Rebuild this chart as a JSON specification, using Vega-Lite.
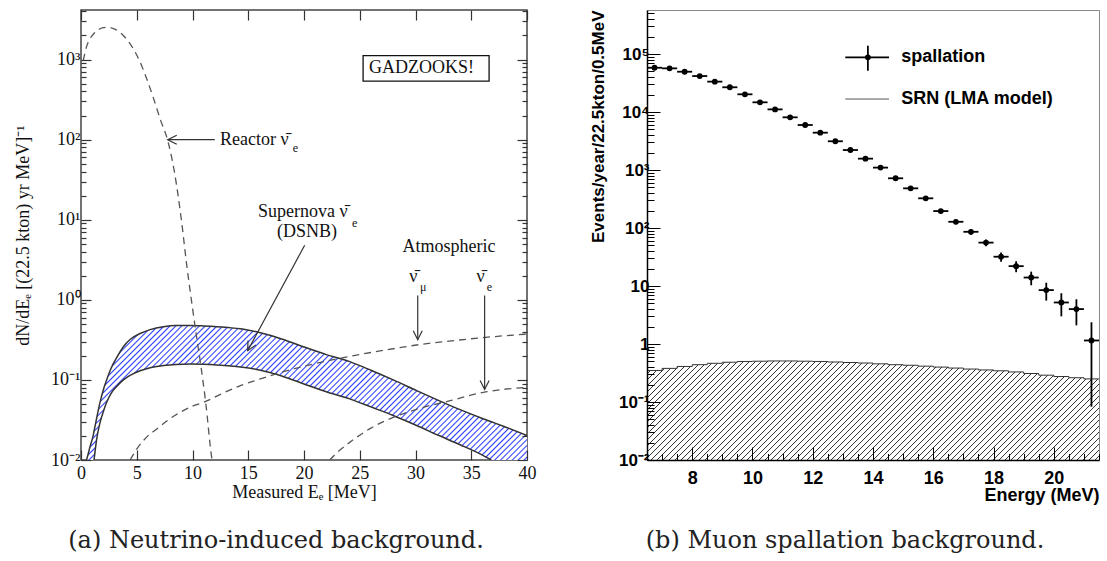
{
"$schema":"https://vega.github.io/schema/vega-lite/v6.json",
"background":"white",
"padding":{"left":13,"top":8,"right":0,"bottom":0},
"spacing":120,
"bounds":"flush",
"datasets":{
"dsnb":[{"E":0.5,"hi":0.0100,"lo":0.01},{"E":0.8,"hi":0.0145,"lo":0.01},{"E":1.1,"hi":0.0205,"lo":0.01},{"E":1.17,"hi":0.023,"lo":0.01},{"E":1.4,"hi":0.033,"lo":0.018},{"E":1.7,"hi":0.052,"lo":0.029},{"E":2.0,"hi":0.075,"lo":0.040},{"E":2.3,"hi":0.10,"lo":0.0525},{"E":2.7,"hi":0.14,"lo":0.068},{"E":3.2,"hi":0.19,"lo":0.083},{"E":3.8,"hi":0.26,"lo":0.100},{"E":4.4,"hi":0.32,"lo":0.114},{"E":5.3,"hi":0.38,"lo":0.130},{"E":6.2,"hi":0.425,"lo":0.142},{"E":7.4,"hi":0.462,"lo":0.151},{"E":8.5,"hi":0.477,"lo":0.156},{"E":9.8,"hi":0.478,"lo":0.158},{"E":11,"hi":0.472,"lo":0.157},{"E":12.2,"hi":0.462,"lo":0.154},{"E":13.2,"hi":0.45,"lo":0.150},{"E":14.3,"hi":0.435,"lo":0.145},{"E":16,"hi":0.39,"lo":0.133},{"E":18,"hi":0.325,"lo":0.112},{"E":20,"hi":0.258,"lo":0.089},{"E":22,"hi":0.207,"lo":0.071},{"E":24.1,"hi":0.169,"lo":0.058},{"E":26,"hi":0.132,"lo":0.046},{"E":28,"hi":0.100,"lo":0.036},{"E":30.1,"hi":0.0736,"lo":0.027},{"E":32,"hi":0.056,"lo":0.0205},{"E":34,"hi":0.0425,"lo":0.0155},{"E":36,"hi":0.033,"lo":0.0115},{"E":36.8,"hi":0.030,"lo":0.0100},{"E":38,"hi":0.026,"lo":0.01},{"E":40,"hi":0.0202,"lo":0.01}],
"curves":[
{"s":"reactor","E":0.2,"v":970},{"s":"reactor","E":0.5,"v":1450},{"s":"reactor","E":0.8,"v":1810},{"s":"reactor","E":1.2,"v":2150},{"s":"reactor","E":1.6,"v":2380},{"s":"reactor","E":2.0,"v":2500},{"s":"reactor","E":2.4,"v":2530},{"s":"reactor","E":2.9,"v":2440},{"s":"reactor","E":3.5,"v":2190},{"s":"reactor","E":4.1,"v":1790},{"s":"reactor","E":4.7,"v":1355},{"s":"reactor","E":5.3,"v":930},{"s":"reactor","E":5.9,"v":572},{"s":"reactor","E":6.5,"v":330},{"s":"reactor","E":7.1,"v":181},{"s":"reactor","E":7.8,"v":95},{"s":"reactor","E":8.4,"v":38},{"s":"reactor","E":9.0,"v":10},{"s":"reactor","E":9.5,"v":2.6},{"s":"reactor","E":9.93,"v":0.93},{"s":"reactor","E":10.3,"v":0.40},{"s":"reactor","E":10.67,"v":0.18},{"s":"reactor","E":11.2,"v":0.05},{"s":"reactor","E":11.72,"v":0.0108},{"s":"reactor","E":11.85,"v":0.0085},
{"s":"atm_mu","E":4.4,"v":0.0100},{"s":"atm_mu","E":5.0,"v":0.0137},{"s":"atm_mu","E":6.0,"v":0.020},{"s":"atm_mu","E":6.8,"v":0.0244},{"s":"atm_mu","E":8.0,"v":0.033},{"s":"atm_mu","E":8.9,"v":0.0394},{"s":"atm_mu","E":10,"v":0.047},{"s":"atm_mu","E":11,"v":0.0525},{"s":"atm_mu","E":12.5,"v":0.066},{"s":"atm_mu","E":14.3,"v":0.085},{"s":"atm_mu","E":16,"v":0.102},{"s":"atm_mu","E":18,"v":0.125},{"s":"atm_mu","E":20,"v":0.148},{"s":"atm_mu","E":22,"v":0.172},{"s":"atm_mu","E":24.1,"v":0.197},{"s":"atm_mu","E":26,"v":0.220},{"s":"atm_mu","E":28,"v":0.245},{"s":"atm_mu","E":30.1,"v":0.273},{"s":"atm_mu","E":33,"v":0.305},{"s":"atm_mu","E":36,"v":0.337},{"s":"atm_mu","E":40,"v":0.374},
{"s":"atm_e","E":22.3,"v":0.0100},{"s":"atm_e","E":23,"v":0.0125},{"s":"atm_e","E":24.1,"v":0.0166},{"s":"atm_e","E":26,"v":0.025},{"s":"atm_e","E":28,"v":0.034},{"s":"atm_e","E":30.1,"v":0.043},{"s":"atm_e","E":33.1,"v":0.055},{"s":"atm_e","E":36.1,"v":0.070},{"s":"atm_e","E":40,"v":0.081}],
"arrows":[{"name":"reactor","xa":12.0,"ya":100,"xb":7.78,"yb":100},{"name":"dsnb","xa":20.06,"ya":4.8,"xb":14.95,"yb":0.232},{"name":"atm","xa":30.2,"ya":1.13,"xb":30.2,"yb":0.318},{"name":"atm","xa":36.2,"ya":1.13,"xb":36.2,"yb":0.076}],
"box":[{"xa":25.3,"xb":36.6,"ya":537,"yb":1122}],
"ann":[{"t":"Reactor ν̄","E":12.47,"v":100},{"t":"Supernova ν̄","E":15.87,"v":12.65},{"t":"(DSNB)","E":17.58,"v":6.97},{"t":"Atmospheric","E":28.83,"v":4.53},{"t":"ν̄","E":29.45,"v":1.91},{"t":"ν̄","E":35.46,"v":1.91},{"t":"GADZOOKS!","E":25.83,"v":778}],
"sub":[{"t":"e","E":19.0,"v":79},{"t":"e","E":24.3,"v":9.0},{"t":"μ","E":30.4,"v":1.44},{"t":"e","E":36.4,"v":1.44}],
"srn":[{"E":6.5,"v":0.35},{"E":7.0,"v":0.38},{"E":7.5,"v":0.41},{"E":8.0,"v":0.44},{"E":8.5,"v":0.465},{"E":9.0,"v":0.485},{"E":9.5,"v":0.50},{"E":10.0,"v":0.505},{"E":10.5,"v":0.51},{"E":11.0,"v":0.51},{"E":11.5,"v":0.505},{"E":12.0,"v":0.50},{"E":12.5,"v":0.49},{"E":13.0,"v":0.48},{"E":13.5,"v":0.47},{"E":14.0,"v":0.455},{"E":14.5,"v":0.44},{"E":15.0,"v":0.43},{"E":15.5,"v":0.415},{"E":16.0,"v":0.40},{"E":16.5,"v":0.385},{"E":17.0,"v":0.37},{"E":17.5,"v":0.357},{"E":18.0,"v":0.345},{"E":18.5,"v":0.33},{"E":19.0,"v":0.31},{"E":19.5,"v":0.29},{"E":20.0,"v":0.275},{"E":20.5,"v":0.262},{"E":21.0,"v":0.25},{"E":21.5,"v":0.25}],
"spall":[{"E":6.75,"v":58000,"lo":57760,"hi":58240,"E0":6.5,"E1":7.0},{"E":7.25,"v":56600,"lo":56360,"hi":56840,"E0":7.0,"E1":7.5},{"E":7.75,"v":49500,"lo":49280,"hi":49720,"E0":7.5,"E1":8.0},{"E":8.25,"v":41700,"lo":41500,"hi":41900,"E0":8.0,"E1":8.5},{"E":8.75,"v":33400,"lo":33220,"hi":33580,"E0":8.5,"E1":9.0},{"E":9.25,"v":26700,"lo":26540,"hi":26860,"E0":9.0,"E1":9.5},{"E":9.75,"v":20200,"lo":20060,"hi":20340,"E0":9.5,"E1":10.0},{"E":10.25,"v":14700,"lo":14580,"hi":14820,"E0":10.0,"E1":10.5},{"E":10.75,"v":11100,"lo":10995,"hi":11205,"E0":10.5,"E1":11.0},{"E":11.25,"v":8100,"lo":8010,"hi":8190,"E0":11.0,"E1":11.5},{"E":11.75,"v":5970,"lo":5893,"hi":6047,"E0":11.5,"E1":12.0},{"E":12.25,"v":4400,"lo":4334,"hi":4466,"E0":12.0,"E1":12.5},{"E":12.75,"v":3130,"lo":3074,"hi":3186,"E0":12.5,"E1":13.0},{"E":13.25,"v":2210,"lo":2163,"hi":2257,"E0":13.0,"E1":13.5},{"E":13.75,"v":1570,"lo":1530,"hi":1610,"E0":13.5,"E1":14.0},{"E":14.25,"v":1100,"lo":1067,"hi":1133,"E0":14.0,"E1":14.5},{"E":14.75,"v":720,"lo":693,"hi":747,"E0":14.5,"E1":15.0},{"E":15.25,"v":483,"lo":461,"hi":505,"E0":15.0,"E1":15.5},{"E":15.75,"v":325,"lo":307,"hi":343,"E0":15.5,"E1":16.0},{"E":16.25,"v":196,"lo":182,"hi":210,"E0":16.0,"E1":16.5},{"E":16.75,"v":128,"lo":116.7,"hi":139.3,"E0":16.5,"E1":17.0},{"E":17.25,"v":86,"lo":76.7,"hi":95.3,"E0":17.0,"E1":17.5},{"E":17.75,"v":56,"lo":48.5,"hi":63.5,"E0":17.5,"E1":18.0},{"E":18.25,"v":32,"lo":26.3,"hi":37.7,"E0":18.0,"E1":18.5},{"E":18.75,"v":22,"lo":17.3,"hi":26.7,"E0":18.5,"E1":19.0},{"E":19.25,"v":14,"lo":10.3,"hi":17.7,"E0":19.0,"E1":19.5},{"E":19.75,"v":8.5,"lo":5.6,"hi":11.4,"E0":19.5,"E1":20.0},{"E":20.25,"v":5.2,"lo":3.0,"hi":7.5,"E0":20.0,"E1":20.5},{"E":20.75,"v":4.0,"lo":2.1,"hi":5.9,"E0":20.5,"E1":21.0},{"E":21.25,"v":1.15,"lo":0.083,"hi":2.37,"E0":21.0,"E1":21.5}],
"leg":[{"k":"sh","xa":13.08,"xb":14.53,"ya":87700,"yb":87700},{"k":"sv","xa":13.83,"xb":13.83,"ya":51500,"yb":139000},{"k":"srn","xa":13.08,"xb":14.53,"ya":16750,"yb":16750}],
"legp":[{"E":13.83,"v":87700}],
"legt":[{"t":"spallation","E":14.94,"v":87700},{"t":"SRN (LMA model)","E":14.94,"v":16750}]
},
"hconcat":[
{
"width":446,"height":450,
"view":{"stroke":"#444","strokeWidth":1.5},
"title":{"text":"(a) Neutrino-induced background.","orient":"bottom","anchor":"middle","dx":-28,"font":"DejaVu Serif","fontSize":24,"fontWeight":"normal","color":"#222","offset":28},
"resolve":{"axis":{"x":"independent","y":"independent"}},
"layer":[
{"data":{"name":"dsnb"},
"mark":{"type":"area","interpolate":"monotone","clip":true,"fill":{"gradient":"linear","x1":0,"y1":0,"x2":1.2217,"y2":0.3731,"stops":[{"offset":0.00,"color":"#fff"},{"offset":0.0025,"color":"#2a3cff"},{"offset":0.005,"color":"#fff"},{"offset":0.01,"color":"#fff"},{"offset":0.0125,"color":"#2a3cff"},{"offset":0.015,"color":"#fff"},{"offset":0.02,"color":"#fff"},{"offset":0.0225,"color":"#2a3cff"},{"offset":0.025,"color":"#fff"},{"offset":0.03,"color":"#fff"},{"offset":0.0325,"color":"#2a3cff"},{"offset":0.035,"color":"#fff"},{"offset":0.04,"color":"#fff"},{"offset":0.0425,"color":"#2a3cff"},{"offset":0.045,"color":"#fff"},{"offset":0.05,"color":"#fff"},{"offset":0.0525,"color":"#2a3cff"},{"offset":0.055,"color":"#fff"},{"offset":0.06,"color":"#fff"},{"offset":0.0625,"color":"#2a3cff"},{"offset":0.065,"color":"#fff"},{"offset":0.07,"color":"#fff"},{"offset":0.0725,"color":"#2a3cff"},{"offset":0.075,"color":"#fff"},{"offset":0.08,"color":"#fff"},{"offset":0.0825,"color":"#2a3cff"},{"offset":0.085,"color":"#fff"},{"offset":0.09,"color":"#fff"},{"offset":0.0925,"color":"#2a3cff"},{"offset":0.095,"color":"#fff"},{"offset":0.10,"color":"#fff"},{"offset":0.1025,"color":"#2a3cff"},{"offset":0.105,"color":"#fff"},{"offset":0.11,"color":"#fff"},{"offset":0.1125,"color":"#2a3cff"},{"offset":0.115,"color":"#fff"},{"offset":0.12,"color":"#fff"},{"offset":0.1225,"color":"#2a3cff"},{"offset":0.125,"color":"#fff"},{"offset":0.13,"color":"#fff"},{"offset":0.1325,"color":"#2a3cff"},{"offset":0.135,"color":"#fff"},{"offset":0.14,"color":"#fff"},{"offset":0.1425,"color":"#2a3cff"},{"offset":0.145,"color":"#fff"},{"offset":0.15,"color":"#fff"},{"offset":0.1525,"color":"#2a3cff"},{"offset":0.155,"color":"#fff"},{"offset":0.16,"color":"#fff"},{"offset":0.1625,"color":"#2a3cff"},{"offset":0.165,"color":"#fff"},{"offset":0.17,"color":"#fff"},{"offset":0.1725,"color":"#2a3cff"},{"offset":0.175,"color":"#fff"},{"offset":0.18,"color":"#fff"},{"offset":0.1825,"color":"#2a3cff"},{"offset":0.185,"color":"#fff"},{"offset":0.19,"color":"#fff"},{"offset":0.1925,"color":"#2a3cff"},{"offset":0.195,"color":"#fff"},{"offset":0.20,"color":"#fff"},{"offset":0.2025,"color":"#2a3cff"},{"offset":0.205,"color":"#fff"},{"offset":0.21,"color":"#fff"},{"offset":0.2125,"color":"#2a3cff"},{"offset":0.215,"color":"#fff"},{"offset":0.22,"color":"#fff"},{"offset":0.2225,"color":"#2a3cff"},{"offset":0.225,"color":"#fff"},{"offset":0.23,"color":"#fff"},{"offset":0.2325,"color":"#2a3cff"},{"offset":0.235,"color":"#fff"},{"offset":0.24,"color":"#fff"},{"offset":0.2425,"color":"#2a3cff"},{"offset":0.245,"color":"#fff"},{"offset":0.25,"color":"#fff"},{"offset":0.2525,"color":"#2a3cff"},{"offset":0.255,"color":"#fff"},{"offset":0.26,"color":"#fff"},{"offset":0.2625,"color":"#2a3cff"},{"offset":0.265,"color":"#fff"},{"offset":0.27,"color":"#fff"},{"offset":0.2725,"color":"#2a3cff"},{"offset":0.275,"color":"#fff"},{"offset":0.28,"color":"#fff"},{"offset":0.2825,"color":"#2a3cff"},{"offset":0.285,"color":"#fff"},{"offset":0.29,"color":"#fff"},{"offset":0.2925,"color":"#2a3cff"},{"offset":0.295,"color":"#fff"},{"offset":0.30,"color":"#fff"},{"offset":0.3025,"color":"#2a3cff"},{"offset":0.305,"color":"#fff"},{"offset":0.31,"color":"#fff"},{"offset":0.3125,"color":"#2a3cff"},{"offset":0.315,"color":"#fff"},{"offset":0.32,"color":"#fff"},{"offset":0.3225,"color":"#2a3cff"},{"offset":0.325,"color":"#fff"},{"offset":0.33,"color":"#fff"},{"offset":0.3325,"color":"#2a3cff"},{"offset":0.335,"color":"#fff"},{"offset":0.34,"color":"#fff"},{"offset":0.3425,"color":"#2a3cff"},{"offset":0.345,"color":"#fff"},{"offset":0.35,"color":"#fff"},{"offset":0.3525,"color":"#2a3cff"},{"offset":0.355,"color":"#fff"},{"offset":0.36,"color":"#fff"},{"offset":0.3625,"color":"#2a3cff"},{"offset":0.365,"color":"#fff"},{"offset":0.37,"color":"#fff"},{"offset":0.3725,"color":"#2a3cff"},{"offset":0.375,"color":"#fff"},{"offset":0.38,"color":"#fff"},{"offset":0.3825,"color":"#2a3cff"},{"offset":0.385,"color":"#fff"},{"offset":0.39,"color":"#fff"},{"offset":0.3925,"color":"#2a3cff"},{"offset":0.395,"color":"#fff"},{"offset":0.40,"color":"#fff"},{"offset":0.4025,"color":"#2a3cff"},{"offset":0.405,"color":"#fff"},{"offset":0.41,"color":"#fff"},{"offset":0.4125,"color":"#2a3cff"},{"offset":0.415,"color":"#fff"},{"offset":0.42,"color":"#fff"},{"offset":0.4225,"color":"#2a3cff"},{"offset":0.425,"color":"#fff"},{"offset":0.43,"color":"#fff"},{"offset":0.4325,"color":"#2a3cff"},{"offset":0.435,"color":"#fff"},{"offset":0.44,"color":"#fff"},{"offset":0.4425,"color":"#2a3cff"},{"offset":0.445,"color":"#fff"},{"offset":0.45,"color":"#fff"},{"offset":0.4525,"color":"#2a3cff"},{"offset":0.455,"color":"#fff"},{"offset":0.46,"color":"#fff"},{"offset":0.4625,"color":"#2a3cff"},{"offset":0.465,"color":"#fff"},{"offset":0.47,"color":"#fff"},{"offset":0.4725,"color":"#2a3cff"},{"offset":0.475,"color":"#fff"},{"offset":0.48,"color":"#fff"},{"offset":0.4825,"color":"#2a3cff"},{"offset":0.485,"color":"#fff"},{"offset":0.49,"color":"#fff"},{"offset":0.4925,"color":"#2a3cff"},{"offset":0.495,"color":"#fff"},{"offset":0.50,"color":"#fff"},{"offset":0.5025,"color":"#2a3cff"},{"offset":0.505,"color":"#fff"},{"offset":0.51,"color":"#fff"},{"offset":0.5125,"color":"#2a3cff"},{"offset":0.515,"color":"#fff"},{"offset":0.52,"color":"#fff"},{"offset":0.5225,"color":"#2a3cff"},{"offset":0.525,"color":"#fff"},{"offset":0.53,"color":"#fff"},{"offset":0.5325,"color":"#2a3cff"},{"offset":0.535,"color":"#fff"},{"offset":0.54,"color":"#fff"},{"offset":0.5425,"color":"#2a3cff"},{"offset":0.545,"color":"#fff"},{"offset":0.55,"color":"#fff"},{"offset":0.5525,"color":"#2a3cff"},{"offset":0.555,"color":"#fff"},{"offset":0.56,"color":"#fff"},{"offset":0.5625,"color":"#2a3cff"},{"offset":0.565,"color":"#fff"},{"offset":0.57,"color":"#fff"},{"offset":0.5725,"color":"#2a3cff"},{"offset":0.575,"color":"#fff"},{"offset":0.58,"color":"#fff"},{"offset":0.5825,"color":"#2a3cff"},{"offset":0.585,"color":"#fff"},{"offset":0.59,"color":"#fff"},{"offset":0.5925,"color":"#2a3cff"},{"offset":0.595,"color":"#fff"},{"offset":0.60,"color":"#fff"},{"offset":0.6025,"color":"#2a3cff"},{"offset":0.605,"color":"#fff"},{"offset":0.61,"color":"#fff"},{"offset":0.6125,"color":"#2a3cff"},{"offset":0.615,"color":"#fff"},{"offset":0.62,"color":"#fff"},{"offset":0.6225,"color":"#2a3cff"},{"offset":0.625,"color":"#fff"},{"offset":0.63,"color":"#fff"},{"offset":0.6325,"color":"#2a3cff"},{"offset":0.635,"color":"#fff"},{"offset":0.64,"color":"#fff"},{"offset":0.6425,"color":"#2a3cff"},{"offset":0.645,"color":"#fff"},{"offset":0.65,"color":"#fff"},{"offset":0.6525,"color":"#2a3cff"},{"offset":0.655,"color":"#fff"},{"offset":0.66,"color":"#fff"},{"offset":0.6625,"color":"#2a3cff"},{"offset":0.665,"color":"#fff"},{"offset":0.67,"color":"#fff"},{"offset":0.6725,"color":"#2a3cff"},{"offset":0.675,"color":"#fff"},{"offset":0.68,"color":"#fff"},{"offset":0.6825,"color":"#2a3cff"},{"offset":0.685,"color":"#fff"},{"offset":0.69,"color":"#fff"},{"offset":0.6925,"color":"#2a3cff"},{"offset":0.695,"color":"#fff"},{"offset":0.70,"color":"#fff"},{"offset":0.7025,"color":"#2a3cff"},{"offset":0.705,"color":"#fff"},{"offset":0.71,"color":"#fff"},{"offset":0.7125,"color":"#2a3cff"},{"offset":0.715,"color":"#fff"},{"offset":0.72,"color":"#fff"},{"offset":0.7225,"color":"#2a3cff"},{"offset":0.725,"color":"#fff"},{"offset":0.73,"color":"#fff"},{"offset":0.7325,"color":"#2a3cff"},{"offset":0.735,"color":"#fff"},{"offset":0.74,"color":"#fff"},{"offset":0.7425,"color":"#2a3cff"},{"offset":0.745,"color":"#fff"},{"offset":0.75,"color":"#fff"},{"offset":0.7525,"color":"#2a3cff"},{"offset":0.755,"color":"#fff"},{"offset":0.76,"color":"#fff"},{"offset":0.7625,"color":"#2a3cff"},{"offset":0.765,"color":"#fff"},{"offset":0.77,"color":"#fff"},{"offset":0.7725,"color":"#2a3cff"},{"offset":0.775,"color":"#fff"},{"offset":0.78,"color":"#fff"},{"offset":0.7825,"color":"#2a3cff"},{"offset":0.785,"color":"#fff"},{"offset":0.79,"color":"#fff"},{"offset":0.7925,"color":"#2a3cff"},{"offset":0.795,"color":"#fff"},{"offset":0.80,"color":"#fff"},{"offset":0.8025,"color":"#2a3cff"},{"offset":0.805,"color":"#fff"},{"offset":0.81,"color":"#fff"},{"offset":0.8125,"color":"#2a3cff"},{"offset":0.815,"color":"#fff"},{"offset":0.82,"color":"#fff"},{"offset":0.8225,"color":"#2a3cff"},{"offset":0.825,"color":"#fff"},{"offset":0.83,"color":"#fff"},{"offset":0.8325,"color":"#2a3cff"},{"offset":0.835,"color":"#fff"},{"offset":0.84,"color":"#fff"},{"offset":0.8425,"color":"#2a3cff"},{"offset":0.845,"color":"#fff"},{"offset":0.85,"color":"#fff"},{"offset":0.8525,"color":"#2a3cff"},{"offset":0.855,"color":"#fff"},{"offset":0.86,"color":"#fff"},{"offset":0.8625,"color":"#2a3cff"},{"offset":0.865,"color":"#fff"},{"offset":0.87,"color":"#fff"},{"offset":0.8725,"color":"#2a3cff"},{"offset":0.875,"color":"#fff"},{"offset":0.88,"color":"#fff"},{"offset":0.8825,"color":"#2a3cff"},{"offset":0.885,"color":"#fff"},{"offset":0.89,"color":"#fff"},{"offset":0.8925,"color":"#2a3cff"},{"offset":0.895,"color":"#fff"},{"offset":0.90,"color":"#fff"},{"offset":0.9025,"color":"#2a3cff"},{"offset":0.905,"color":"#fff"},{"offset":0.91,"color":"#fff"},{"offset":0.9125,"color":"#2a3cff"},{"offset":0.915,"color":"#fff"},{"offset":0.92,"color":"#fff"},{"offset":0.9225,"color":"#2a3cff"},{"offset":0.925,"color":"#fff"},{"offset":0.93,"color":"#fff"},{"offset":0.9325,"color":"#2a3cff"},{"offset":0.935,"color":"#fff"},{"offset":0.94,"color":"#fff"},{"offset":0.9425,"color":"#2a3cff"},{"offset":0.945,"color":"#fff"},{"offset":0.95,"color":"#fff"},{"offset":0.9525,"color":"#2a3cff"},{"offset":0.955,"color":"#fff"},{"offset":0.96,"color":"#fff"},{"offset":0.9625,"color":"#2a3cff"},{"offset":0.965,"color":"#fff"},{"offset":0.97,"color":"#fff"},{"offset":0.9725,"color":"#2a3cff"},{"offset":0.975,"color":"#fff"}]}},
"encoding":{
"x":{"field":"E","type":"quantitative","scale":{"domain":[0,40],"nice":false,"zero":false},
"axis":{"orient":"bottom","values":[0,5,10,15,20,25,30,35,40],"title":"Measured Eₑ  [MeV]","tickSize":-10,"tickColor":"#333","tickWidth":1.2,"domain":false,"grid":false,"labelFont":"Liberation Serif","labelFontSize":18,"labelColor":"#111","labelPadding":14,"labelFlush":false,"labelOverlap":false,"titleFont":"Liberation Serif","titleFontSize":18,"titleFontWeight":"normal","titleColor":"#111","titlePadding":1,"zindex":1}},
"y":{"field":"hi","type":"quantitative","scale":{"type":"log","domain":[0.01,4160],"nice":false},
"axis":{"orient":"left","values":[0.01,0.02,0.03,0.04,0.05,0.06,0.07,0.08,0.09,0.1,0.2,0.3,0.4,0.5,0.6,0.7,0.8,0.9,1,2,3,4,5,6,7,8,9,10,20,30,40,50,60,70,80,90,100,200,300,400,500,600,700,800,900,1000,2000,3000,4000],
"tickSize":{"condition":{"test":"datum.value==0.01||datum.value==0.1||datum.value==1||datum.value==10||datum.value==100||datum.value==1000","value":-10},"value":-5},
"labelFontSize":{"condition":{"test":"datum.value==0.01||datum.value==0.1||datum.value==1||datum.value==10||datum.value==100||datum.value==1000","value":18},"value":0},
"labelExpr":"datum.value==0.01?'10⁻²':datum.value==0.1?'10⁻¹':datum.value==1?'10⁰':datum.value==10?'10¹':datum.value==100?'10²':datum.value==1000?'10³':''",
"tickColor":"#333","tickWidth":1.2,"domain":false,"grid":false,"labelFont":"Liberation Serif","labelColor":"#111","labelPadding":11,"labelOverlap":false,"labelFlush":false,
"title":"dN/dEₑ  [(22.5 kton) yr MeV]⁻¹","titleFont":"Liberation Serif","titleFontSize":18,"titleFontWeight":"normal","titleColor":"#111","titlePadding":18,"zindex":1}},
"y2":{"field":"lo"}}},
{"data":{"name":"dsnb"},
"mark":{"type":"line","interpolate":"monotone","color":"#333","strokeWidth":1.5,"clip":true},
"encoding":{
"x":{"field":"E","type":"quantitative","scale":{"domain":[0,40],"nice":false,"zero":false},
"axis":{"orient":"top","values":[0,5,10,15,20,25,30,35,40],"labels":false,"title":null,"tickSize":-10,"tickColor":"#333","tickWidth":1.2,"domain":false,"grid":false,"zindex":1}},
"y":{"field":"hi","type":"quantitative","scale":{"type":"log","domain":[0.01,4160],"nice":false},
"axis":{"orient":"right","values":[0.01,0.02,0.03,0.04,0.05,0.06,0.07,0.08,0.09,0.1,0.2,0.3,0.4,0.5,0.6,0.7,0.8,0.9,1,2,3,4,5,6,7,8,9,10,20,30,40,50,60,70,80,90,100,200,300,400,500,600,700,800,900,1000,2000,3000,4000],
"tickSize":{"condition":{"test":"datum.value==0.01||datum.value==0.1||datum.value==1||datum.value==10||datum.value==100||datum.value==1000","value":-10},"value":-5},
"labels":false,"title":null,"tickColor":"#333","tickWidth":1.2,"domain":false,"grid":false,"zindex":1}}}},
{"data":{"name":"dsnb"},
"transform":[{"filter":"datum.E >= 1.17 && datum.E <= 36.8"}],
"mark":{"type":"line","interpolate":"monotone","color":"#333","strokeWidth":1.5,"clip":true},
"encoding":{
"x":{"field":"E","type":"quantitative","scale":{"domain":[0,40],"nice":false,"zero":false},"axis":null},
"y":{"field":"lo","type":"quantitative","scale":{"type":"log","domain":[0.01,4160],"nice":false},"axis":null}}},
{"data":{"name":"curves"},
"mark":{"type":"line","interpolate":"monotone","color":"#555","strokeWidth":1.3,"strokeDash":[7,5],"clip":true},
"encoding":{
"detail":{"field":"s"},
"x":{"field":"E","type":"quantitative","scale":{"domain":[0,40],"nice":false,"zero":false},"axis":null},
"y":{"field":"v","type":"quantitative","scale":{"type":"log","domain":[0.01,4160],"nice":false},"axis":null}}},
{"data":{"name":"arrows"},
"mark":{"type":"rule","color":"#333","strokeWidth":1.2},
"encoding":{
"x":{"field":"xa","type":"quantitative","scale":{"domain":[0,40],"nice":false,"zero":false},"axis":null},
"x2":{"field":"xb"},
"y":{"field":"ya","type":"quantitative","scale":{"type":"log","domain":[0.01,4160],"nice":false},"axis":null},
"y2":{"field":"yb"}}},
{"data":{"name":"arrows"},
"transform":[{"filter":"datum.name=='reactor'"}],
"mark":{"type":"point","shape":"M -0.5 1 L 0 0 L 0.5 1","angle":270,"size":324,"filled":false,"stroke":"#333","strokeWidth":1.2,"opacity":1},
"encoding":{
"x":{"field":"xb","type":"quantitative","scale":{"domain":[0,40],"nice":false,"zero":false},"axis":null},
"y":{"field":"yb","type":"quantitative","scale":{"type":"log","domain":[0.01,4160],"nice":false},"axis":null}}},
{"data":{"name":"arrows"},
"transform":[{"filter":"datum.name=='atm'"}],
"mark":{"type":"point","shape":"M -0.5 1 L 0 0 L 0.5 1","angle":180,"size":324,"filled":false,"stroke":"#333","strokeWidth":1.2,"opacity":1},
"encoding":{
"x":{"field":"xb","type":"quantitative","scale":{"domain":[0,40],"nice":false,"zero":false},"axis":null},
"y":{"field":"yb","type":"quantitative","scale":{"type":"log","domain":[0.01,4160],"nice":false},"axis":null}}},
{"data":{"name":"arrows"},
"transform":[{"filter":"datum.name=='dsnb'"}],
"mark":{"type":"point","shape":"M -0.5 1 L 0 0 L 0.5 1","angle":208.4,"size":324,"filled":false,"stroke":"#333","strokeWidth":1.2,"opacity":1},
"encoding":{
"x":{"field":"xb","type":"quantitative","scale":{"domain":[0,40],"nice":false,"zero":false},"axis":null},
"y":{"field":"yb","type":"quantitative","scale":{"type":"log","domain":[0.01,4160],"nice":false},"axis":null}}},
{"data":{"name":"box"},
"mark":{"type":"rect","fill":"white","stroke":"#111","strokeWidth":1.3},
"encoding":{
"x":{"field":"xa","type":"quantitative","scale":{"domain":[0,40],"nice":false,"zero":false},"axis":null},
"x2":{"field":"xb"},
"y":{"field":"ya","type":"quantitative","scale":{"type":"log","domain":[0.01,4160],"nice":false},"axis":null},
"y2":{"field":"yb"}}},
{"data":{"name":"ann"},
"mark":{"type":"text","font":"Liberation Serif","fontSize":18,"align":"left","baseline":"middle","color":"#111"},
"encoding":{
"text":{"field":"t"},
"x":{"field":"E","type":"quantitative","scale":{"domain":[0,40],"nice":false,"zero":false},"axis":null},
"y":{"field":"v","type":"quantitative","scale":{"type":"log","domain":[0.01,4160],"nice":false},"axis":null}}},
{"data":{"name":"sub"},
"mark":{"type":"text","font":"Liberation Serif","fontSize":12,"align":"left","baseline":"middle","color":"#111"},
"encoding":{
"text":{"field":"t"},
"x":{"field":"E","type":"quantitative","scale":{"domain":[0,40],"nice":false,"zero":false},"axis":null},
"y":{"field":"v","type":"quantitative","scale":{"type":"log","domain":[0.01,4160],"nice":false},"axis":null}}}
]
},
{
"width":452,"height":450,
"view":{"stroke":"#888","strokeWidth":1},
"title":{"text":"(b) Muon spallation background.","orient":"bottom","anchor":"middle","dx":-28,"font":"DejaVu Serif","fontSize":24,"fontWeight":"normal","color":"#222","offset":25},
"resolve":{"axis":{"x":"independent","y":"independent"}},
"layer":[
{"data":{"name":"srn"},
"mark":{"type":"area","interpolate":"step-after","clip":true,"fill":{"gradient":"linear","x1":0,"y1":0,"x2":1.2667,"y2":0.2774,"stops":[{"offset":0.00,"color":"#fff"},{"offset":0.0017,"color":"#333"},{"offset":0.0034,"color":"#fff"},{"offset":0.01,"color":"#fff"},{"offset":0.0117,"color":"#333"},{"offset":0.0134,"color":"#fff"},{"offset":0.02,"color":"#fff"},{"offset":0.0217,"color":"#333"},{"offset":0.0234,"color":"#fff"},{"offset":0.03,"color":"#fff"},{"offset":0.0317,"color":"#333"},{"offset":0.0334,"color":"#fff"},{"offset":0.04,"color":"#fff"},{"offset":0.0417,"color":"#333"},{"offset":0.0434,"color":"#fff"},{"offset":0.05,"color":"#fff"},{"offset":0.0517,"color":"#333"},{"offset":0.0534,"color":"#fff"},{"offset":0.06,"color":"#fff"},{"offset":0.0617,"color":"#333"},{"offset":0.0634,"color":"#fff"},{"offset":0.07,"color":"#fff"},{"offset":0.0717,"color":"#333"},{"offset":0.0734,"color":"#fff"},{"offset":0.08,"color":"#fff"},{"offset":0.0817,"color":"#333"},{"offset":0.0834,"color":"#fff"},{"offset":0.09,"color":"#fff"},{"offset":0.0917,"color":"#333"},{"offset":0.0934,"color":"#fff"},{"offset":0.10,"color":"#fff"},{"offset":0.1017,"color":"#333"},{"offset":0.1034,"color":"#fff"},{"offset":0.11,"color":"#fff"},{"offset":0.1117,"color":"#333"},{"offset":0.1134,"color":"#fff"},{"offset":0.12,"color":"#fff"},{"offset":0.1217,"color":"#333"},{"offset":0.1234,"color":"#fff"},{"offset":0.13,"color":"#fff"},{"offset":0.1317,"color":"#333"},{"offset":0.1334,"color":"#fff"},{"offset":0.14,"color":"#fff"},{"offset":0.1417,"color":"#333"},{"offset":0.1434,"color":"#fff"},{"offset":0.15,"color":"#fff"},{"offset":0.1517,"color":"#333"},{"offset":0.1534,"color":"#fff"},{"offset":0.16,"color":"#fff"},{"offset":0.1617,"color":"#333"},{"offset":0.1634,"color":"#fff"},{"offset":0.17,"color":"#fff"},{"offset":0.1717,"color":"#333"},{"offset":0.1734,"color":"#fff"},{"offset":0.18,"color":"#fff"},{"offset":0.1817,"color":"#333"},{"offset":0.1834,"color":"#fff"},{"offset":0.19,"color":"#fff"},{"offset":0.1917,"color":"#333"},{"offset":0.1934,"color":"#fff"},{"offset":0.20,"color":"#fff"},{"offset":0.2017,"color":"#333"},{"offset":0.2034,"color":"#fff"},{"offset":0.21,"color":"#fff"},{"offset":0.2117,"color":"#333"},{"offset":0.2134,"color":"#fff"},{"offset":0.22,"color":"#fff"},{"offset":0.2217,"color":"#333"},{"offset":0.2234,"color":"#fff"},{"offset":0.23,"color":"#fff"},{"offset":0.2317,"color":"#333"},{"offset":0.2334,"color":"#fff"},{"offset":0.24,"color":"#fff"},{"offset":0.2417,"color":"#333"},{"offset":0.2434,"color":"#fff"},{"offset":0.25,"color":"#fff"},{"offset":0.2517,"color":"#333"},{"offset":0.2534,"color":"#fff"},{"offset":0.26,"color":"#fff"},{"offset":0.2617,"color":"#333"},{"offset":0.2634,"color":"#fff"},{"offset":0.27,"color":"#fff"},{"offset":0.2717,"color":"#333"},{"offset":0.2734,"color":"#fff"},{"offset":0.28,"color":"#fff"},{"offset":0.2817,"color":"#333"},{"offset":0.2834,"color":"#fff"},{"offset":0.29,"color":"#fff"},{"offset":0.2917,"color":"#333"},{"offset":0.2934,"color":"#fff"},{"offset":0.30,"color":"#fff"},{"offset":0.3017,"color":"#333"},{"offset":0.3034,"color":"#fff"},{"offset":0.31,"color":"#fff"},{"offset":0.3117,"color":"#333"},{"offset":0.3134,"color":"#fff"},{"offset":0.32,"color":"#fff"},{"offset":0.3217,"color":"#333"},{"offset":0.3234,"color":"#fff"},{"offset":0.33,"color":"#fff"},{"offset":0.3317,"color":"#333"},{"offset":0.3334,"color":"#fff"},{"offset":0.34,"color":"#fff"},{"offset":0.3417,"color":"#333"},{"offset":0.3434,"color":"#fff"},{"offset":0.35,"color":"#fff"},{"offset":0.3517,"color":"#333"},{"offset":0.3534,"color":"#fff"},{"offset":0.36,"color":"#fff"},{"offset":0.3617,"color":"#333"},{"offset":0.3634,"color":"#fff"},{"offset":0.37,"color":"#fff"},{"offset":0.3717,"color":"#333"},{"offset":0.3734,"color":"#fff"},{"offset":0.38,"color":"#fff"},{"offset":0.3817,"color":"#333"},{"offset":0.3834,"color":"#fff"},{"offset":0.39,"color":"#fff"},{"offset":0.3917,"color":"#333"},{"offset":0.3934,"color":"#fff"},{"offset":0.40,"color":"#fff"},{"offset":0.4017,"color":"#333"},{"offset":0.4034,"color":"#fff"},{"offset":0.41,"color":"#fff"},{"offset":0.4117,"color":"#333"},{"offset":0.4134,"color":"#fff"},{"offset":0.42,"color":"#fff"},{"offset":0.4217,"color":"#333"},{"offset":0.4234,"color":"#fff"},{"offset":0.43,"color":"#fff"},{"offset":0.4317,"color":"#333"},{"offset":0.4334,"color":"#fff"},{"offset":0.44,"color":"#fff"},{"offset":0.4417,"color":"#333"},{"offset":0.4434,"color":"#fff"},{"offset":0.45,"color":"#fff"},{"offset":0.4517,"color":"#333"},{"offset":0.4534,"color":"#fff"},{"offset":0.46,"color":"#fff"},{"offset":0.4617,"color":"#333"},{"offset":0.4634,"color":"#fff"},{"offset":0.47,"color":"#fff"},{"offset":0.4717,"color":"#333"},{"offset":0.4734,"color":"#fff"},{"offset":0.48,"color":"#fff"},{"offset":0.4817,"color":"#333"},{"offset":0.4834,"color":"#fff"},{"offset":0.49,"color":"#fff"},{"offset":0.4917,"color":"#333"},{"offset":0.4934,"color":"#fff"},{"offset":0.50,"color":"#fff"},{"offset":0.5017,"color":"#333"},{"offset":0.5034,"color":"#fff"},{"offset":0.51,"color":"#fff"},{"offset":0.5117,"color":"#333"},{"offset":0.5134,"color":"#fff"},{"offset":0.52,"color":"#fff"},{"offset":0.5217,"color":"#333"},{"offset":0.5234,"color":"#fff"},{"offset":0.53,"color":"#fff"},{"offset":0.5317,"color":"#333"},{"offset":0.5334,"color":"#fff"},{"offset":0.54,"color":"#fff"},{"offset":0.5417,"color":"#333"},{"offset":0.5434,"color":"#fff"},{"offset":0.55,"color":"#fff"},{"offset":0.5517,"color":"#333"},{"offset":0.5534,"color":"#fff"},{"offset":0.56,"color":"#fff"},{"offset":0.5617,"color":"#333"},{"offset":0.5634,"color":"#fff"},{"offset":0.57,"color":"#fff"},{"offset":0.5717,"color":"#333"},{"offset":0.5734,"color":"#fff"},{"offset":0.58,"color":"#fff"},{"offset":0.5817,"color":"#333"},{"offset":0.5834,"color":"#fff"},{"offset":0.59,"color":"#fff"},{"offset":0.5917,"color":"#333"},{"offset":0.5934,"color":"#fff"},{"offset":0.60,"color":"#fff"},{"offset":0.6017,"color":"#333"},{"offset":0.6034,"color":"#fff"},{"offset":0.61,"color":"#fff"},{"offset":0.6117,"color":"#333"},{"offset":0.6134,"color":"#fff"},{"offset":0.62,"color":"#fff"},{"offset":0.6217,"color":"#333"},{"offset":0.6234,"color":"#fff"},{"offset":0.63,"color":"#fff"},{"offset":0.6317,"color":"#333"},{"offset":0.6334,"color":"#fff"},{"offset":0.64,"color":"#fff"},{"offset":0.6417,"color":"#333"},{"offset":0.6434,"color":"#fff"},{"offset":0.65,"color":"#fff"},{"offset":0.6517,"color":"#333"},{"offset":0.6534,"color":"#fff"},{"offset":0.66,"color":"#fff"},{"offset":0.6617,"color":"#333"},{"offset":0.6634,"color":"#fff"},{"offset":0.67,"color":"#fff"},{"offset":0.6717,"color":"#333"},{"offset":0.6734,"color":"#fff"},{"offset":0.68,"color":"#fff"},{"offset":0.6817,"color":"#333"},{"offset":0.6834,"color":"#fff"},{"offset":0.69,"color":"#fff"},{"offset":0.6917,"color":"#333"},{"offset":0.6934,"color":"#fff"},{"offset":0.70,"color":"#fff"},{"offset":0.7017,"color":"#333"},{"offset":0.7034,"color":"#fff"},{"offset":0.71,"color":"#fff"},{"offset":0.7117,"color":"#333"},{"offset":0.7134,"color":"#fff"},{"offset":0.72,"color":"#fff"},{"offset":0.7217,"color":"#333"},{"offset":0.7234,"color":"#fff"},{"offset":0.73,"color":"#fff"},{"offset":0.7317,"color":"#333"},{"offset":0.7334,"color":"#fff"},{"offset":0.74,"color":"#fff"},{"offset":0.7417,"color":"#333"},{"offset":0.7434,"color":"#fff"},{"offset":0.75,"color":"#fff"},{"offset":0.7517,"color":"#333"},{"offset":0.7534,"color":"#fff"},{"offset":0.76,"color":"#fff"},{"offset":0.7617,"color":"#333"},{"offset":0.7634,"color":"#fff"},{"offset":0.77,"color":"#fff"},{"offset":0.7717,"color":"#333"},{"offset":0.7734,"color":"#fff"},{"offset":0.78,"color":"#fff"},{"offset":0.7817,"color":"#333"},{"offset":0.7834,"color":"#fff"},{"offset":0.79,"color":"#fff"},{"offset":0.7917,"color":"#333"},{"offset":0.7934,"color":"#fff"},{"offset":0.80,"color":"#fff"},{"offset":0.8017,"color":"#333"},{"offset":0.8034,"color":"#fff"},{"offset":0.81,"color":"#fff"},{"offset":0.8117,"color":"#333"},{"offset":0.8134,"color":"#fff"},{"offset":0.82,"color":"#fff"},{"offset":0.8217,"color":"#333"},{"offset":0.8234,"color":"#fff"},{"offset":0.83,"color":"#fff"},{"offset":0.8317,"color":"#333"},{"offset":0.8334,"color":"#fff"},{"offset":0.84,"color":"#fff"},{"offset":0.8417,"color":"#333"},{"offset":0.8434,"color":"#fff"},{"offset":0.85,"color":"#fff"},{"offset":0.8517,"color":"#333"},{"offset":0.8534,"color":"#fff"},{"offset":0.86,"color":"#fff"},{"offset":0.8617,"color":"#333"},{"offset":0.8634,"color":"#fff"},{"offset":0.87,"color":"#fff"},{"offset":0.8717,"color":"#333"},{"offset":0.8734,"color":"#fff"},{"offset":0.88,"color":"#fff"},{"offset":0.8817,"color":"#333"},{"offset":0.8834,"color":"#fff"},{"offset":0.89,"color":"#fff"},{"offset":0.8917,"color":"#333"},{"offset":0.8934,"color":"#fff"},{"offset":0.90,"color":"#fff"},{"offset":0.9017,"color":"#333"},{"offset":0.9034,"color":"#fff"},{"offset":0.91,"color":"#fff"},{"offset":0.9117,"color":"#333"},{"offset":0.9134,"color":"#fff"},{"offset":0.92,"color":"#fff"},{"offset":0.9217,"color":"#333"},{"offset":0.9234,"color":"#fff"}]}},
"encoding":{
"x":{"field":"E","type":"quantitative","scale":{"domain":[6.5,21.5],"nice":false,"zero":false},
"axis":{"orient":"bottom","values":[6.5,7,7.5,8,8.5,9,9.5,10,10.5,11,11.5,12,12.5,13,13.5,14,14.5,15,15.5,16,16.5,17,17.5,18,18.5,19,19.5,20,20.5,21,21.5],
"tickSize":{"condition":{"test":"datum.value % 2 == 0","value":-13},"value":-6.5},
"labelFontSize":{"condition":{"test":"datum.value % 2 == 0","value":18},"value":0},
"labelExpr":"datum.value % 2 == 0 ? format(datum.value, 'd') : ''",
"tickColor":"#000","tickWidth":1,"domain":true,"domainColor":"#000","domainWidth":1.5,"grid":false,"labelFont":"Liberation Sans","labelFontWeight":"bold","labelColor":"#000","labelPadding":22,"labelFlush":false,"labelOverlap":false,
"title":"Energy (MeV)","titleAnchor":"end","titleFont":"Liberation Sans","titleFontSize":18,"titleFontWeight":"bold","titleColor":"#000","titlePadding":-1,"zindex":1}},
"y":{"field":"v","type":"quantitative","scale":{"type":"log","domain":[0.01,574000],"nice":false},
"axis":{"orient":"left","values":[0.01,0.02,0.03,0.04,0.05,0.06,0.07,0.08,0.09,0.1,0.2,0.3,0.4,0.5,0.6,0.7,0.8,0.9,1,2,3,4,5,6,7,8,9,10,20,30,40,50,60,70,80,90,100,200,300,400,500,600,700,800,900,1000,2000,3000,4000,5000,6000,7000,8000,9000,10000,20000,30000,40000,50000,60000,70000,80000,90000,100000,200000,300000,400000,500000],
"tickSize":{"condition":{"test":"datum.value==0.01||datum.value==0.1||datum.value==1||datum.value==10||datum.value==100||datum.value==1000||datum.value==10000||datum.value==100000","value":-13},"value":-7},
"labelFontSize":{"condition":{"test":"datum.value==0.01||datum.value==0.1||datum.value==1||datum.value==10||datum.value==100||datum.value==1000||datum.value==10000||datum.value==100000","value":17},"value":0},
"labelExpr":"datum.value==0.01?'10⁻²':datum.value==0.1?'10⁻¹':datum.value==1?'1':datum.value==10?'10':datum.value==100?'10²':datum.value==1000?'10³':datum.value==10000?'10⁴':datum.value==100000?'10⁵':''",
"tickColor":"#000","tickWidth":1,"domain":true,"domainColor":"#000","domainWidth":1.5,"grid":false,"labelFont":"Liberation Sans","labelFontWeight":"bold","labelColor":"#000","labelPadding":11,"labelOverlap":false,"labelFlush":false,
"title":"Events/year/22.5kton/0.5MeV","titleAnchor":"end","titleFont":"Liberation Sans","titleFontSize":17,"titleFontWeight":"bold","titleColor":"#000","titlePadding":11,"zindex":1}},
"y2":{"datum":0.01}}},
{"data":{"name":"srn"},
"mark":{"type":"line","interpolate":"step-after","color":"#333","strokeWidth":1,"clip":true},
"encoding":{
"x":{"field":"E","type":"quantitative","scale":{"domain":[6.5,21.5],"nice":false,"zero":false},"axis":null},
"y":{"field":"v","type":"quantitative","scale":{"type":"log","domain":[0.01,574000],"nice":false},"axis":null}}},
{"data":{"name":"spall"},
"mark":{"type":"rule","color":"#000","strokeWidth":1.8,"clip":true},
"encoding":{
"x":{"field":"E","type":"quantitative","scale":{"domain":[6.5,21.5],"nice":false,"zero":false},"axis":null},
"y":{"field":"lo","type":"quantitative","scale":{"type":"log","domain":[0.01,574000],"nice":false},"axis":null},
"y2":{"field":"hi"}}},
{"data":{"name":"spall"},
"mark":{"type":"rule","color":"#000","strokeWidth":1.8,"clip":true},
"encoding":{
"x":{"field":"E0","type":"quantitative","scale":{"domain":[6.5,21.5],"nice":false,"zero":false},"axis":null},
"x2":{"field":"E1"},
"y":{"field":"v","type":"quantitative","scale":{"type":"log","domain":[0.01,574000],"nice":false},"axis":null}}},
{"data":{"name":"spall"},
"mark":{"type":"point","shape":"circle","filled":true,"size":34,"color":"#000","opacity":1},
"encoding":{
"x":{"field":"E","type":"quantitative","scale":{"domain":[6.5,21.5],"nice":false,"zero":false},"axis":null},
"y":{"field":"v","type":"quantitative","scale":{"type":"log","domain":[0.01,574000],"nice":false},"axis":null}}},
{"data":{"name":"leg"},
"transform":[{"filter":"datum.k != 'srn'"}],
"mark":{"type":"rule","color":"#000","strokeWidth":1.8},
"encoding":{
"x":{"field":"xa","type":"quantitative","scale":{"domain":[6.5,21.5],"nice":false,"zero":false},"axis":null},
"x2":{"field":"xb"},
"y":{"field":"ya","type":"quantitative","scale":{"type":"log","domain":[0.01,574000],"nice":false},"axis":null},
"y2":{"field":"yb"}}},
{"data":{"name":"leg"},
"transform":[{"filter":"datum.k == 'srn'"}],
"mark":{"type":"rule","color":"#555","strokeWidth":1},
"encoding":{
"x":{"field":"xa","type":"quantitative","scale":{"domain":[6.5,21.5],"nice":false,"zero":false},"axis":null},
"x2":{"field":"xb"},
"y":{"field":"ya","type":"quantitative","scale":{"type":"log","domain":[0.01,574000],"nice":false},"axis":null},
"y2":{"field":"yb"}}},
{"data":{"name":"legp"},
"mark":{"type":"point","shape":"circle","filled":true,"size":34,"color":"#000","opacity":1},
"encoding":{
"x":{"field":"E","type":"quantitative","scale":{"domain":[6.5,21.5],"nice":false,"zero":false},"axis":null},
"y":{"field":"v","type":"quantitative","scale":{"type":"log","domain":[0.01,574000],"nice":false},"axis":null}}},
{"data":{"name":"legt"},
"mark":{"type":"text","font":"Liberation Sans","fontWeight":"bold","fontSize":18,"align":"left","baseline":"middle","color":"#000"},
"encoding":{
"text":{"field":"t"},
"x":{"field":"E","type":"quantitative","scale":{"domain":[6.5,21.5],"nice":false,"zero":false},"axis":null},
"y":{"field":"v","type":"quantitative","scale":{"type":"log","domain":[0.01,574000],"nice":false},"axis":null}}}
]
}
]
}
